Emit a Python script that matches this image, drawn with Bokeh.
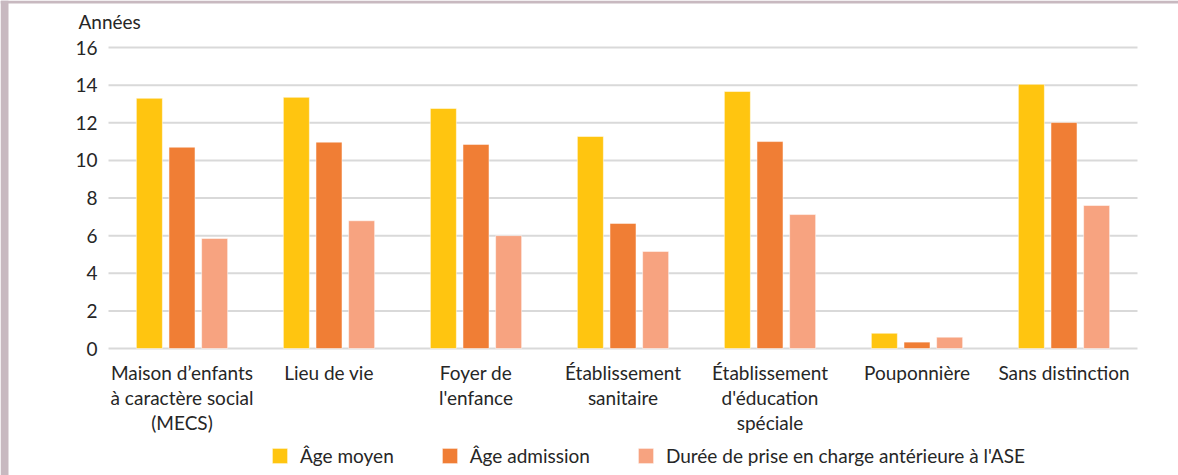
from bokeh.plotting import figure
from bokeh.models import ColumnDataSource, Legend, LegendItem, Range1d, BoxAnnotation
from bokeh.core.properties import value
from bokeh.embed import file_html
from bokeh.resources import INLINE

categories = ["MECS", "Lieu de vie", "Foyer de l'enfance", "Établissement sanitaire",
              "Établissement d'éducation spéciale", "Pouponnière", "Sans distinction"]
category_labels = ["Maison d’enfants\nà caractère social\n(MECS)", "Lieu de vie",
                   "Foyer de\nl'enfance", "Établissement\nsanitaire",
                   "Établissement\nd'éducation\nspéciale", "Pouponnière", "Sans distinction"]
age_moyen = [13.3, 13.35, 12.76, 11.27, 13.66, 0.81, 14.04]
age_admission = [10.7, 10.97, 10.85, 6.65, 11.0, 0.34, 12.01]
duree_ase = [5.85, 6.79, 6.0, 5.16, 7.12, 0.6, 7.6]
series_names = ["Âge moyen", "Âge admission", "Durée de prise en charge antérieure à l'ASE"]
colors = ["#FFC510", "#F07E35", "#F7A380"]
y_ticks = [0, 2, 4, 6, 8, 10, 12, 14, 16]
y_title = "Années"

FONT = value("Lato")
TXT = "#262626"
FS = "19px"

W, H = 1178, 475
PLOT_L, PLOT_R, PLOT_T, PLOT_B = 108, 1137, 47, 348
n = len(categories)
xu = (PLOT_R - PLOT_L) / n            # px per category
yu = (PLOT_B - PLOT_T) / max(y_ticks)  # px per year

x_range = Range1d(-PLOT_L / xu, n + (W - PLOT_R) / xu)
y_range = Range1d(-(H - PLOT_B) / yu, PLOT_B / yu)

p = figure(x_range=x_range, y_range=y_range, width=W, height=H,
           output_backend="svg", toolbar_location=None, min_border=0)
p.outline_line_color = None
p.axis.visible = False
p.grid.visible = False
p.background_fill_color = "white"
p.border_fill_color = "white"

# page frame bands (left and top)
p.add_layout(BoxAnnotation(right=x_range.start + 8 / xu, fill_color="#c8b9c0", fill_alpha=1,
                           line_color=None, level="underlay"))
p.add_layout(BoxAnnotation(bottom=y_range.end - 3 / yu, fill_color="#c8b9c0", fill_alpha=1,
                           line_color=None, level="underlay"))

xs = [i + 0.5 for i in range(n)]
src = ColumnDataSource(dict(x=xs, lab=category_labels))

# gridlines
p.segment(x0=0, x1=n, y0=y_ticks, y1=y_ticks, line_color="#d9d9d9", line_width=2)

renderers = []
for vals, off, col in zip([age_moyen, age_admission, duree_ase], [-0.222, 0.0, 0.222], colors):
    r = p.vbar(x=[v + off for v in xs], top=vals, bottom=0, width=0.177,
               fill_color=col, line_color="white", line_alpha=0.5, line_width=1)
    renderers.append(r)

# y tick labels
p.text(x=-11 / xu, y=y_ticks, text=[str(t) for t in y_ticks], text_align="right",
       text_baseline="middle", text_font=FONT, text_font_size=FS, text_color=TXT)

# y title
p.text(x=-30 / xu, y=max(y_ticks), text=[y_title], y_offset=-26, text_align="left",
       text_baseline="alphabetic", text_font=FONT, text_font_size=FS, text_color=TXT)

# category labels
p.text(x="x", y=0, text="lab", source=src, y_offset=12, text_align="center",
       text_baseline="top", text_font=FONT, text_font_size=FS, text_color=TXT,
       text_line_height=1.1)

legend = Legend(items=[LegendItem(label=s, renderers=[r]) for s, r in zip(series_names, renderers)],
                orientation="horizontal", location=(270, 8), padding=0, margin=0,
                spacing=46, glyph_width=19, glyph_height=19, label_height=19,
                label_standoff=11,
                label_text_font="Lato", label_text_font_size=FS, label_text_color=TXT,
                border_line_color=None, background_fill_alpha=0)
p.add_layout(legend, "center")

open("out.html", "w").write(file_html(p, INLINE))
